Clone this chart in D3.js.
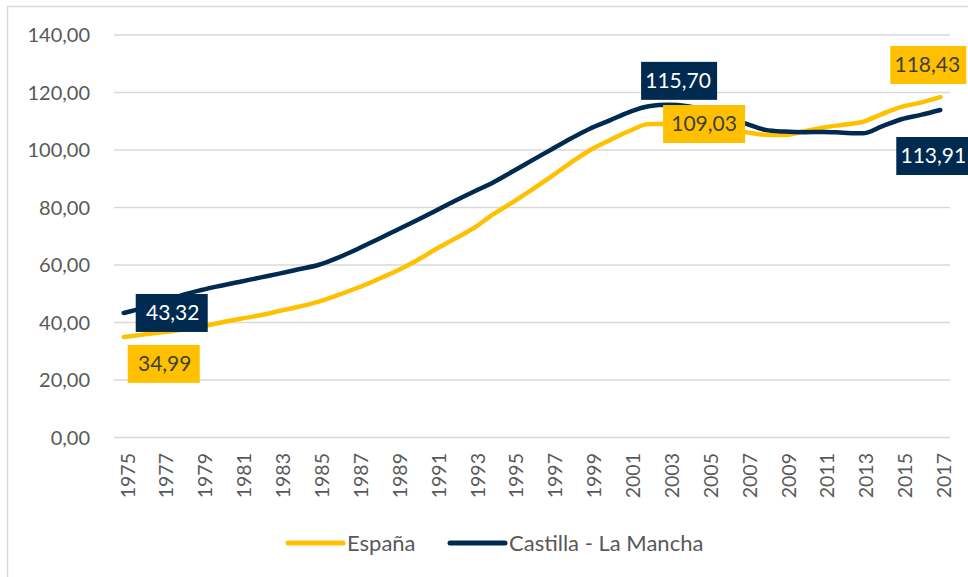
<!DOCTYPE html>
<meta charset="utf-8">
<style>
body { margin: 0; background: #fff; }
svg { font-family: Lato, "Open Sans", sans-serif; }
.tick-y { fill: #595959; font-size: 20px; }
.tick-x { fill: #595959; font-size: 19.5px; }
.legend { fill: #595959; font-size: 22px; }
</style>
<body>
<svg width="968" height="577"></svg>
</body>
<script src="https://d3js.org/d3.v7.min.js"></script>
<script>

var years = d3.range(1975, 2018);

var espana = [34.99, 35.8, 36.6, 37.5, 38.6, 40.0, 41.3, 42.5, 44.0, 45.5,
  47.2, 49.5, 52.0, 54.8, 57.8, 61.3, 65.3, 69.0, 72.8, 77.6,
  81.8, 86.2, 90.8, 95.6, 100.0, 103.4, 106.6, 109.0, 109.03, 108.5,
  107.8, 107.0, 106.2, 105.3, 105.2, 106.5, 107.8, 108.8, 109.8, 112.5,
  115.0, 116.5, 118.43];

var castilla = [43.32, 45.0, 47.0, 49.5, 51.3, 52.8, 54.2, 55.6, 57.0, 58.5,
  60.0, 62.5, 65.5, 68.7, 72.0, 75.3, 78.7, 82.2, 85.5, 88.7,
  92.5, 96.4, 100.2, 104.0, 107.5, 110.3, 113.2, 115.2, 115.70, 115.2,
  113.5, 111.4, 109.2, 107.0, 106.4, 106.2, 106.3, 106.0, 105.8, 108.2,
  110.7, 112.2, 113.91];

var yTicks = [0, 20, 40, 60, 80, 100, 120, 140];
var xTicks = d3.range(1975, 2018, 2);

var seriesNames = ["España", "Castilla - La Mancha"];
var seriesColors = ["#FFC000", "#002A50"];

// labelled points: series index, year
var labels = [
  {s: 0, year: 1975, dx: 41, dy: 27},
  {s: 1, year: 1975, dx: 49, dy: 0},
  {s: 1, year: 2003, dx: 10, dy: -24},
  {s: 0, year: 2003, dx: 36, dy: 0},
  {s: 0, year: 2017, dx: -13, dy: -32},
  {s: 1, year: 2017, dx: -7, dy: 46}
];

var svg = d3.select("svg");
var fmt = function(v) { return d3.format(".2f")(v).replace(".", ","); };

var x = d3.scalePoint().domain(years).range([114, 950]).padding(0.5);
var y = d3.scaleLinear().domain([0, 140]).range([437.5, 35]);

// outer chart frame
svg.append("rect")
  .attr("x", 7.5).attr("y", 6.5)
  .attr("width", 975).attr("height", 590)
  .attr("fill", "none").attr("stroke", "#d9d9d9").attr("stroke-width", 1.5);

// gridlines + y labels
svg.append("g").selectAll("line")
  .data(yTicks).enter().append("line")
    .attr("x1", 114).attr("x2", 950)
    .attr("y1", y).attr("y2", y)
    .attr("stroke", "#d9d9d9").attr("stroke-width", 1.5);

svg.append("g").selectAll("text")
  .data(yTicks).enter().append("text")
    .attr("class", "tick-y")
    .attr("x", 90).attr("y", y)
    .attr("dy", "0.35em")
    .attr("text-anchor", "end")
    .text(fmt);

// x labels
svg.append("g").selectAll("text")
  .data(xTicks).enter().append("text")
    .attr("class", "tick-x")
    .attr("transform", function(d) { return "translate(" + (x(d) + 4) + ",453) rotate(-90)"; })
    .attr("dy", "0.35em")
    .attr("text-anchor", "end")
    .text(function(d) { return d; });

var data = [espana, castilla];
var line = d3.line()
  .x(function(d, i) { return x(years[i]); })
  .y(function(d) { return y(d); })
  .curve(d3.curveMonotoneX);

svg.append("g").selectAll("path")
  .data(data).enter().append("path")
    .attr("d", line)
    .attr("fill", "none")
    .attr("stroke", function(d, i) { return seriesColors[i]; })
    .attr("stroke-width", 4.5)
    .attr("stroke-linecap", "round")
    .attr("stroke-linejoin", "round");

// data labels
var lg = svg.append("g").selectAll("g")
  .data(labels).enter().append("g")
    .attr("transform", function(d) {
      var i = years.indexOf(d.year);
      return "translate(" + (x(d.year) + d.dx) + "," + (y(data[d.s][i]) + d.dy) + ")";
    });

lg.append("rect")
  .attr("x", function(d) { return d.year == 2003 && d.s == 0 ? -41 : -37; })
  .attr("y", -19)
  .attr("width", function(d) { return d.year == 2003 && d.s == 0 ? 82 : (String(Math.floor(data[d.s][years.indexOf(d.year)])).length > 2 ? 76 : 72); })
  .attr("height", 38)
  .attr("fill", function(d) { return seriesColors[d.s]; });

lg.append("text")
  .attr("text-anchor", "middle")
  .attr("dy", "0.35em")
  .attr("font-size", 21)
  .attr("fill", function(d) { return d.s == 0 ? "#404040" : "#fff"; })
  .text(function(d) { return fmt(data[d.s][years.indexOf(d.year)]); });

// legend
var legendX = [288, 450];
var leg = svg.append("g").selectAll("g")
  .data(seriesNames).enter().append("g")
    .attr("transform", function(d, i) { return "translate(" + legendX[i] + ",543)"; });

leg.append("line")
  .attr("x1", 0).attr("x2", 55)
  .attr("stroke", function(d, i) { return seriesColors[i]; })
  .attr("stroke-width", 5)
  .attr("stroke-linecap", "round");

leg.append("text")
  .attr("class", "legend")
  .attr("x", 59).attr("dy", "0.35em")
  .text(function(d) { return d; });
</script>
